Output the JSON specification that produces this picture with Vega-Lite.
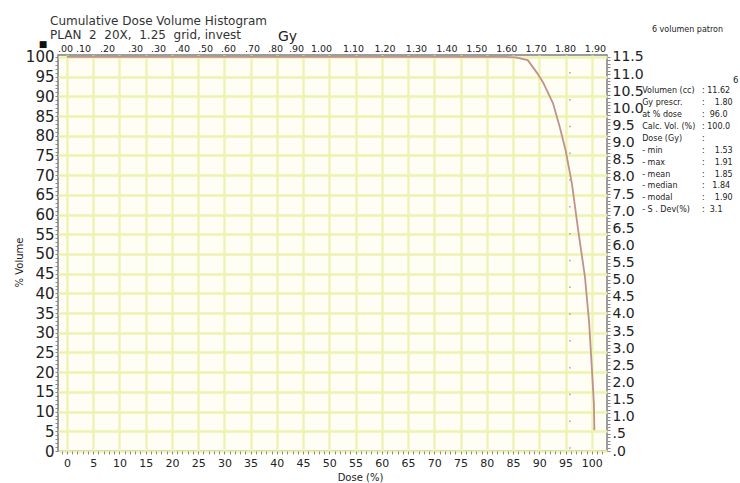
{
  "$schema": "https://vega.github.io/schema/vega-lite/v6.json",
  "width": 549,
  "height": 396,
  "autosize": "none",
  "padding": {"left": 58, "top": 55, "right": 133, "bottom": 32},
  "background": "white",
  "config": {
    "view": {"fill": "#fefef4", "stroke": "#7d7d7d", "strokeWidth": 1.5},
    "font": "DejaVu Sans",
    "axis": {"domain": false, "labelColor": "#222", "titleColor": "#222", "titleFontWeight": "normal", "tickColor": "#8a8a8a", "gridColor": "#eef2b2", "gridWidth": 2.4, "labelOverlap": false, "labelFlush": false}
  },
  "title": {
    "text": "Cumulative Dose Volume Histogram",
    "subtitle": "PLAN\u00a0 2\u00a0 20X,\u00a0 1.25\u00a0 grid, invest",
    "anchor": "start",
    "frame": "group",
    "dx": -8,
    "font": "DejaVu Sans",
    "fontSize": 12,
    "fontWeight": "normal",
    "color": "#333",
    "subtitleFont": "DejaVu Sans",
    "subtitleFontSize": 12,
    "subtitleColor": "#333",
    "subtitlePadding": 2,
    "offset": -16
  },
  "datasets": {
    "dvh": [
      {"dose": 0, "volume": 100},
      {"dose": 83.5, "volume": 100},
      {"dose": 85.5, "volume": 99.9},
      {"dose": 87.8, "volume": 99.2},
      {"dose": 89.6, "volume": 95.9},
      {"dose": 90.7, "volume": 93.6},
      {"dose": 92.6, "volume": 88.3},
      {"dose": 93.9, "volume": 82.2},
      {"dose": 95.0, "volume": 76.4},
      {"dose": 96.2, "volume": 68.0},
      {"dose": 97.4, "volume": 56.1},
      {"dose": 98.7, "volume": 44.2},
      {"dose": 99.5, "volume": 32.5},
      {"dose": 100.0, "volume": 21.3},
      {"dose": 100.4, "volume": 12.2},
      {"dose": 100.5, "volume": 5.3}
    ],
    "info": [
      {
        "labels": ["Volumen (cc)", "Gy prescr.", "at  % dose", "Calc. Vol. (%)", "Dose  (Gy)", "\u00a0\u00a0- min", "\u00a0\u00a0- max", "\u00a0\u00a0- mean", "\u00a0\u00a0- median", "\u00a0\u00a0- modal", "\u00a0\u00a0- S . Dev(%)"],
        "values": [": 11.62", ":\u00a0\u00a0\u00a0 1.80", ":\u00a0 96.0", ": 100.0", ":", ":\u00a0\u00a0\u00a0 1.53", ":\u00a0\u00a0\u00a0 1.91", ":\u00a0\u00a0\u00a0 1.85", ":\u00a0\u00a0 1.84", ":\u00a0\u00a0\u00a0 1.90", ":\u00a0 3.1"]
      }
    ]
  },
  "layer": [
    {
      "layer": [
        {
          "data": {"name": "dvh"},
          "mark": {"type": "line", "color": "#c0928c", "strokeWidth": 1.8},
          "encoding": {
            "x": {
              "field": "dose", "type": "quantitative",
              "scale": {"domain": [-1.7, 102.9], "nice": false, "zero": false},
              "axis": {
                "orient": "bottom", "title": "Dose (%)", "tickCount": 100,
                "labelExpr": "datum.value % 5 == 0 && datum.value >= 0 && datum.value <= 100 ? datum.label : ''",
                "labelFontSize": 11, "labelPadding": 3, "tickSize": 3, "grid": true,
                "gridOpacity": {"condition": {"test": "datum.value % 5 == 0 && datum.value >= 0 && datum.value <= 100", "value": 1}, "value": 0},
                "titleFontSize": 10, "titleX": 302, "titleY": 26, "titleBaseline": "middle", "titleAlign": "center"
              }
            },
            "y": {
              "field": "volume", "type": "quantitative",
              "scale": {"domain": [0, 100.5], "nice": false},
              "axis": {
                "orient": "left", "title": "% Volume", "tickCount": 100,
                "labelExpr": "datum.value % 5 == 0 && datum.value <= 100 ? datum.label : ''",
                "labelFontSize": 15, "labelPadding": 1, "tickSize": 3, "grid": true,
                "gridOpacity": {"condition": {"test": "datum.value % 5 == 0 && datum.value <= 100", "value": 1}, "value": 0},
                "titleFontSize": 10, "titleX": -39, "titleY": 207, "titleBaseline": "middle", "titleAlign": "center"
              }
            }
          }
        },
        {
          "data": {"values": [{"dose": 95.84}]},
          "mark": {"type": "rule", "color": "#a0a0b0", "strokeWidth": 1.5, "strokeDash": [1.5, 25.3], "strokeDashOffset": 24.6},
          "encoding": {
            "x": {"field": "dose", "type": "quantitative"},
            "y": {"datum": 0},
            "y2": {"datum": 97}
          }
        },
        {
          "data": {"values": [{"t": "■"}]},
          "mark": {"type": "text", "fontSize": 9, "color": "#111", "align": "center", "baseline": "middle"},
          "encoding": {"x": {"datum": -4.56}, "y": {"datum": 103.2}, "text": {"field": "t"}}
        },
        {
          "data": {"values": [{"t": "6 volumen patron"}]},
          "mark": {"type": "text", "fontSize": 8, "color": "#222", "align": "left", "baseline": "middle"},
          "encoding": {"x": {"datum": 111.47}, "y": {"datum": 106.8}, "text": {"field": "t"}}
        },
        {
          "data": {"values": [{"t": "6"}]},
          "mark": {"type": "text", "fontSize": 8.5, "color": "#222", "align": "left", "baseline": "middle"},
          "encoding": {"x": {"datum": 126.9}, "y": {"datum": 94.2}, "text": {"field": "t"}}
        },
        {
          "data": {"name": "info"},
          "mark": {"type": "text", "fontSize": 8, "lineHeight": 11.9, "color": "#222", "align": "left", "baseline": "top"},
          "encoding": {"x": {"datum": 109.6}, "y": {"datum": 92.3}, "text": {"field": "labels"}}
        },
        {
          "data": {"name": "info"},
          "mark": {"type": "text", "fontSize": 8, "lineHeight": 11.9, "color": "#222", "align": "left", "baseline": "top"},
          "encoding": {"x": {"datum": 121.0}, "y": {"datum": 92.3}, "text": {"field": "values"}}
        }
      ]
    },
    {
      "data": {"values": [{"cc": 0}]},
      "mark": {"type": "point", "opacity": 0},
      "encoding": {
        "y": {
          "field": "cc", "type": "quantitative",
          "scale": {"domain": [0, 11.5575], "nice": false},
          "axis": {
            "orient": "right", "title": null, "tickCount": 115, "grid": false,
            "labelExpr": "abs(datum.value * 2 - round(datum.value * 2)) < 0.001 ? (datum.value < 0.99 ? '.' + format(datum.value * 10, 'd') : format(datum.value, '.1f')) : ''",
            "labelFontSize": 14, "labelPadding": 2, "tickSize": 3
          }
        }
      }
    },
    {
      "data": {"values": [{"gy": 0}]},
      "mark": {"type": "point", "opacity": 0},
      "encoding": {
        "x": {
          "field": "gy", "type": "quantitative",
          "axis": {
            "orient": "top", "title": "Gy", "grid": false, "ticks": false,
            "values": [-0.37, 3.06, 7.64, 12.97, 17.35, 21.92, 26.3, 30.69, 35.26, 39.64, 43.64, 48.4, 54.5, 60.5, 66.5, 72.3, 78.0, 83.7, 89.3, 94.9, 100.6],
            "labelExpr": "['.00','.10','.20','.30','.30','.40','.50','.60','.70','.80','.90','1.00','1.10','1.20','1.30','1.40','1.50','1.60','1.70','1.80','1.90'][indexof([-0.37, 3.06, 7.64, 12.97, 17.35, 21.92, 26.3, 30.69, 35.26, 39.64, 43.64, 48.4, 54.5, 60.5, 66.5, 72.3, 78.0, 83.7, 89.3, 94.9, 100.6], datum.value)]",
            "labelFontSize": 9.5, "labelPadding": 2,
            "titleFontSize": 14, "titleX": 229, "titleY": -19, "titleBaseline": "middle", "titleAlign": "center"
          }
        }
      }
    }
  ],
  "resolve": {"scale": {"y": "independent"}, "axis": {"x": "independent", "y": "independent"}}
}
